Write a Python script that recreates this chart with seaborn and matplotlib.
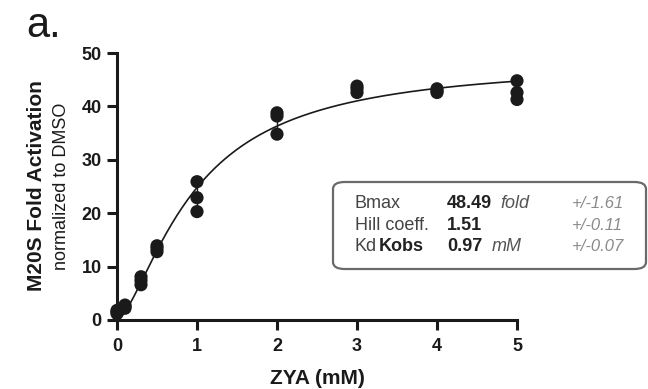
import numpy as np
import pandas as pd
import matplotlib
matplotlib.use("Agg")
import matplotlib.pyplot as plt
import seaborn as sns
from matplotlib.patches import FancyBboxPatch

# ---- data ----
conc = [0, 0, 0, 0.1, 0.1, 0.1, 0.3, 0.3, 0.3, 0.5, 0.5, 0.5,
        1, 1, 1, 2, 2, 2, 3, 3, 3, 4, 4, 4, 5, 5, 5]
activation = [1.2, 1.5, 1.8, 2.2, 2.5, 2.8, 6.6, 7.4, 8.1, 12.8, 13.4, 13.9,
              25.9, 22.9, 20.3, 38.8, 38.2, 34.8, 43.8, 43.3, 42.6, 43.3, 42.9, 42.6,
              44.8, 42.6, 41.3]

# fit parameters shown in the box
BMAX = 48.49
HILL = 1.51
KD = 0.97
fit_labels = ["Bmax", "Hill coeff.", "Kd"]
fit_values = ["48.49", "1.51", "0.97"]
fit_errors = ["+/-1.61", "+/-0.11", "+/-0.07"]

df = pd.DataFrame({"ZYA": conc, "act": activation})
x_fit = np.linspace(0, 5, 300)
fit_df = pd.DataFrame({"ZYA": x_fit,
                       "act": BMAX * x_fit**HILL / (KD**HILL + x_fit**HILL)})

sns.set_style("ticks")
plt.rcParams['font.family'] = ['Liberation Sans', 'DejaVu Sans']

W, H = 648, 389
fig = plt.figure(figsize=(W / 100, H / 100), dpi=100)
ax = fig.add_axes([117/W, 1 - 320/H, 400/W, 267/H])

def fx(px):
    return px / W

def fy(py):
    return 1 - py / H

sns.lineplot(data=fit_df, x="ZYA", y="act", color="#1a1a1a", lw=1.2, ax=ax)
sns.lineplot(data=df, x="ZYA", y="act", errorbar="sd", err_style="bars",
             linestyle="", color="#1a1a1a", err_kws={"elinewidth": 1.0}, ax=ax)
sns.scatterplot(data=df, x="ZYA", y="act", color="#1a1a1a", s=90,
                edgecolor="none", clip_on=False, zorder=5, ax=ax)

ax.set_xlim(0, 5)
ax.set_ylim(0, 50)
ax.set_xticks([0, 1, 2, 3, 4, 5])
ax.set_yticks([0, 10, 20, 30, 40, 50])
ax.set_xlabel("")
ax.set_ylabel("")
sns.despine(ax=ax)
for s in ["left", "bottom"]:
    ax.spines[s].set_linewidth(2.2)
    ax.spines[s].set_color("#1a1a1a")
ax.tick_params(axis="both", length=7, width=2.2, color="#1a1a1a",
               labelsize=13, labelcolor="#1a1a1a", pad=4)
ax.tick_params(axis="x", pad=6)
for lab in ax.get_xticklabels() + ax.get_yticklabels():
    lab.set_fontweight("bold")

# axis titles
fig.text(fx(317), fy(378), "ZYA (mM)", ha="center", va="center",
         fontsize=15, fontweight="bold", color="#1a1a1a")
fig.text(fx(37), fy(186), "M20S Fold Activation", ha="center", va="center",
         rotation=90, fontsize=15, fontweight="bold", color="#1a1a1a")
fig.text(fx(62), fy(186), "normalized to DMSO", ha="center", va="center",
         rotation=90, fontsize=13, color="#1a1a1a")
fig.text(fx(26), fy(37), "a.", ha="left", va="baseline", fontsize=30,
         color="#1a1a1a")

# parameter box
box = FancyBboxPatch((fx(333), fy(269)), 313/W, 87/H,
                     boxstyle="round,pad=0,rounding_size=0.018",
                     transform=fig.transFigure, facecolor="white",
                     edgecolor="#6a6a6a", lw=1.6, zorder=10)
fig.patches.append(box)
rows_y = [203, 225, 247]
for i, y in enumerate(rows_y):
    fig.text(fx(355), fy(y), fit_labels[i], ha="left", va="center", fontsize=13,
             color="#444444", zorder=11)
    fig.text(fx(447), fy(y), fit_values[i], ha="left", va="center", fontsize=13,
             fontweight="bold", color="#222222", zorder=11)
    fig.text(fx(572), fy(y), fit_errors[i], ha="left", va="center", fontsize=12,
             style="italic", color="#8a8a8a", zorder=11)
fig.text(fx(500), fy(rows_y[0]), "fold", ha="left", va="center", fontsize=13,
         style="italic", color="#555555", zorder=11)
fig.text(fx(492), fy(rows_y[2]), "mM", ha="left", va="center", fontsize=13,
         style="italic", color="#555555", zorder=11)
fig.text(fx(379), fy(rows_y[2]), "Kobs", ha="left", va="center", fontsize=13,
         fontweight="bold", color="#222222", zorder=11)

fig.savefig("out.png", dpi=100)
